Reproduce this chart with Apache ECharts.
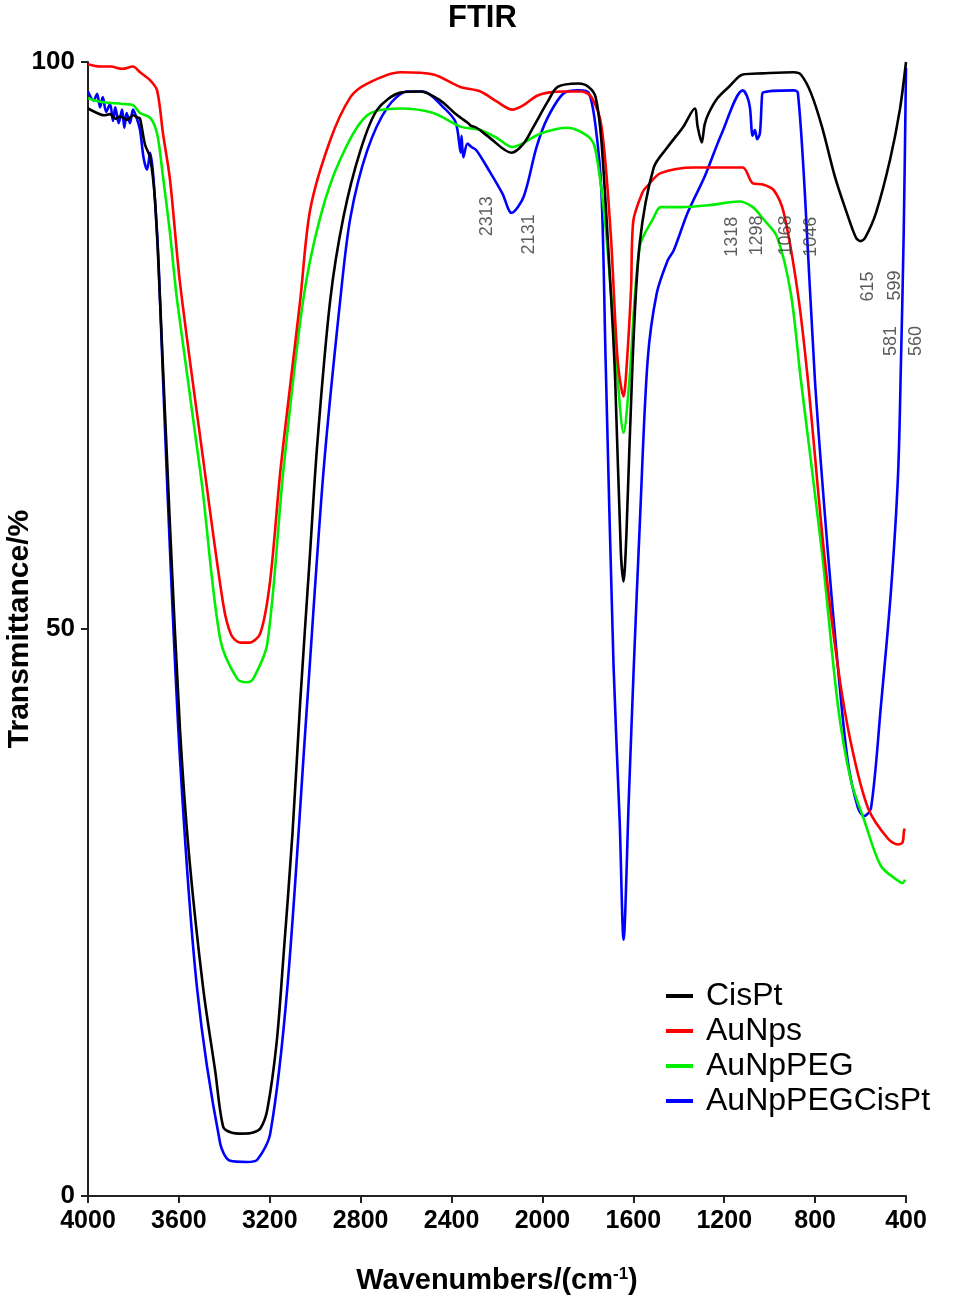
<!DOCTYPE html>
<html>
<head>
<meta charset="utf-8">
<script src="https://cdn.jsdelivr.net/npm/echarts@6/dist/echarts.min.js"></script>
<style>
html,body{margin:0;padding:0;background:#fff;}
#chart{width:954px;height:1299px;}
</style>
</head>
<body>
<div id="chart"></div>
<script>
// ---- data (wavenumber cm-1, transmittance %) ----
const seriesNames = ['CisPt', 'AuNps', 'AuNpPEG', 'AuNpPEGCisPt'];

const cisPtX = [4000,3960,3930,3903,3880,3859,3830,3802,3780,3771,3749,3727,3705,3683,3639,3595,3555,3493,3440,3405,3370,3320,3273,3240,3211,3170,3141,3100,3066,3025,2991,2934,2876,2801,2727,2625,2537,2449,2387,2361,2326,2317,2290,2237,2136,2083,2039,1977,1933,1841,1797,1766,1740,1700,1680,1655,1643,1630,1603,1572,1510,1449,1380,1330,1317,1299,1286,1268,1230,1180,1118,1030,894,863,819,770,713,664,620,600,580,532,470,427,400];
const cisPtY = [95.9,95.5,95.3,95.4,95.0,95.2,94.9,95.3,95.1,95.0,92.7,91.6,87.8,79.0,59.0,41.1,30.0,18.3,11.0,6.1,5.6,5.5,5.6,6.0,7.6,13.5,20.8,32.0,43.6,56.0,66.3,79.0,86.3,92.2,95.8,97.3,97.4,96.6,95.5,95.1,94.6,94.4,94.2,93.4,92.0,92.8,94.3,96.5,97.8,98.1,97.8,96.9,92.9,80.0,72.0,56.8,54.2,58.6,73.7,84.0,90.7,92.5,94.3,95.9,94.3,92.9,94.5,95.5,96.8,97.8,98.9,99.0,99.1,98.9,97.3,94.3,89.9,86.9,84.5,84.2,84.5,86.7,91.4,95.8,100];

const auNpsX = [4000,3947,3900,3850,3802,3771,3727,3696,3670,3639,3595,3500,3405,3370,3330,3290,3242,3200,3154,3110,3066,3022,2934,2845,2771,2625,2480,2361,2273,2200,2132,2083,2026,1977,1903,1828,1784,1740,1700,1669,1643,1630,1610,1600,1560,1541,1480,1330,1180,1118,1074,1030,982,938,876,832,761,700,642,567,479,435,415,409,405];
const auNpsY = [99.8,99.6,99.6,99.4,99.6,99.1,98.4,97.5,93.7,89.6,80.5,66.0,52.2,49.5,48.8,48.8,49.6,54.0,63.8,71.5,79.0,87.0,93.1,96.9,98.1,99.1,98.9,97.8,97.4,96.5,95.8,96.2,97.0,97.3,97.4,97.4,96.9,94.3,85.0,73.7,70.5,73.0,80.0,86.0,88.5,89.0,90.2,90.7,90.7,90.7,89.3,89.2,88.7,86.7,79.6,72.0,56.8,46.7,39.9,34.2,31.5,31.0,31.2,32.2,32.4];

const auNpPegX = [4000,3947,3850,3802,3771,3727,3696,3670,3639,3608,3500,3418,3343,3300,3273,3211,3141,3053,2978,2890,2771,2625,2480,2361,2273,2200,2132,2008,1889,1797,1766,1722,1669,1643,1617,1572,1510,1480,1391,1255,1136,1074,1030,968,907,863,770,700,642,585,510,435,415,405];
const auNpPegY = [96.8,96.5,96.3,96.2,95.5,95.1,93.7,89.9,84.9,79.0,63.0,49.1,45.6,45.3,45.6,48.7,63.8,79.0,86.3,91.4,95.3,95.9,95.5,94.3,94.0,93.3,92.5,93.7,94.2,93.4,92.2,85.4,72.0,67.3,72.0,83.7,86.3,87.2,87.2,87.4,87.7,87.2,86.2,84.6,79.6,72.0,56.8,43.3,36.6,33.2,29.1,27.8,27.6,27.9];

const auNpPegCisPtX = [4000,3975,3960,3947,3935,3920,3903,3890,3880,3865,3850,3840,3830,3815,3802,3785,3771,3755,3740,3727,3696,3683,3650,3595,3520,3418,3374,3300,3255,3198,3123,3035,2964,2890,2845,2771,2682,2594,2524,2436,2387,2374,2360,2356,2348,2330,2312,2290,2237,2176,2136,2083,2026,1977,1903,1841,1797,1766,1740,1722,1687,1660,1643,1620,1598,1570,1537,1497,1449,1422,1361,1286,1211,1118,1100,1087,1075,1065,1055,1043,1035,1030,894,876,845,801,744,700,656,611,585,554,510,466,435,422,410,400];
const auNpPegCisPtY = [97.4,96.6,97.2,96.0,96.9,95.6,96.3,94.8,96.0,94.6,95.8,94.2,95.5,94.6,95.8,95.0,94.0,91.5,90.5,92.0,84.9,79.0,62.0,38.5,18.3,4.6,3.1,3.0,3.2,5.5,18.3,43.6,63.8,79.0,86.3,92.2,96.0,97.4,97.4,96.0,94.9,94.0,92.0,93.5,91.6,92.8,92.5,92.2,90.5,88.4,86.7,88.1,92.5,95.1,97.3,97.5,97.3,94.3,88.4,73.7,46.7,33.0,22.6,35.0,46.7,60.0,73.7,79.6,82.5,83.4,86.7,89.9,93.7,97.5,97.0,96.0,93.5,94.0,93.2,93.7,96.5,97.3,97.5,97.3,88.4,72.0,56.8,46.7,38.3,34.2,33.5,34.2,43.3,53.4,63.6,73.7,85.0,99.5];

// peak annotations (label text, placed at wavenumber / transmittance)
const annText = ['2313','2131','1318','1298','1068','1046','615','599','581','560'];
const annX    = [2246, 2061, 1167, 1057, 929, 819, 567, 448, 466, 356];
const annY    = [86.4, 84.8, 84.6, 84.7, 84.7, 84.6, 80.2, 80.3, 75.4, 75.4];

const xTicks = [4000,3600,3200,2800,2400,2000,1600,1200,800,400];
const yTicks = [0,50,100];

const colors = ['#000000', '#ff0000', '#00ee00', '#0000ff'];

function zip(xs, ys) { return xs.map((x, i) => [x, ys[i]]); }
const allX = [cisPtX, auNpsX, auNpPegX, auNpPegCisPtX];
const allY = [cisPtY, auNpsY, auNpPegY, auNpPegCisPtY];

const FONT = '"Liberation Sans", Arial, sans-serif';

const lineSeries = seriesNames.map((name, i) => ({
  name: name,
  type: 'line',
  data: zip(allX[i], allY[i]),
  showSymbol: false,
  symbol: 'none',
  smooth: 0.3,
  lineStyle: { color: colors[i], width: 2.6 },
  itemStyle: { color: colors[i] },
  z: 10 - i
}));

const annSeries = {
  name: 'labels',
  type: 'scatter',
  clip: false,
  silent: true,
  symbolSize: 0,
  data: annX.map((x, i) => [x, annY[i], annText[i]]),
  label: {
    show: true,
    position: 'inside',
    rotate: 90,
    formatter: p => p.value[2],
    fontFamily: FONT,
    fontSize: 18,
    color: '#333'
  },
  z: 20
};

const chart = echarts.init(document.getElementById('chart'), null, { renderer: 'canvas' });
chart.setOption({
  animation: false,
  backgroundColor: '#fff',
  textStyle: { fontFamily: FONT },
  title: {
    text: 'FTIR',
    left: 448,
    top: 3,
    padding: 0,
    textStyle: { fontFamily: FONT, fontWeight: 'bold', fontSize: 31, color: '#000' }
  },
  legend: {
    data: seriesNames,
    orient: 'vertical',
    left: 666,
    top: 980,
    itemWidth: 27,
    itemHeight: 4,
    itemGap: 3,
    icon: 'rect',
    padding: 0,
    textStyle: { fontFamily: FONT, fontSize: 32, color: '#000', lineHeight: 30, padding: [0, 0, 0, 8] }
  },
  grid: { left: 88, right: 48, top: 62, bottom: 103, containLabel: false, outerBoundsMode: 'none' },
  xAxis: {
    type: 'value',
    inverse: true,
    min: 400,
    max: 4000,
    interval: 400,
    name: 'Wavenumbers/(cm{sup|-1})',
    nameLocation: 'middle',
    nameGap: 70,
    nameMoveOverlap: false,
    nameTextStyle: {
      fontFamily: FONT, fontWeight: 'bold', fontSize: 29, color: '#000',
      rich: { sup: { fontFamily: FONT, fontWeight: 'bold', fontSize: 17, color: '#000', verticalAlign: 'top', padding: [0, 0, 12, 0] } }
    },
    axisLine: { show: true, lineStyle: { color: '#222', width: 2 } },
    axisTick: { show: true, length: 7, inside: false, lineStyle: { color: '#222', width: 2 } },
    axisLabel: { margin: 13, fontFamily: FONT, fontWeight: 'bold', fontSize: 25, color: '#000',
      formatter: v => (xTicks.indexOf(v) >= 0 ? String(v) : '') },
    splitLine: { show: false }
  },
  yAxis: {
    type: 'value',
    min: 0,
    max: 100,
    interval: 50,
    name: 'Transmittance/%',
    nameLocation: 'middle',
    nameGap: 53,
    nameMoveOverlap: false,
    nameTextStyle: { fontFamily: FONT, fontWeight: 'bold', fontSize: 30, color: '#000' },
    axisLine: { show: true, lineStyle: { color: '#222', width: 2 } },
    axisTick: { show: true, length: 7, inside: false, lineStyle: { color: '#222', width: 2 } },
    axisLabel: { margin: 13, fontFamily: FONT, fontWeight: 'bold', fontSize: 26, color: '#000',
      formatter: v => (yTicks.indexOf(v) >= 0 ? String(v) : '') },
    splitLine: { show: false }
  },
  series: lineSeries.concat([annSeries])
});
</script>
</body>
</html>
